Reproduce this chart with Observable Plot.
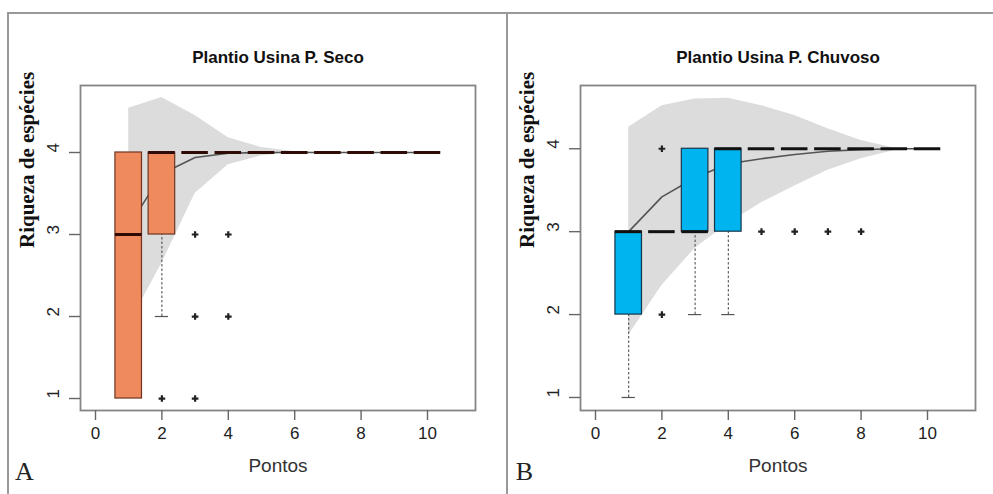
<!DOCTYPE html>
<html><head><meta charset="utf-8">
<script src="https://cdn.jsdelivr.net/npm/d3@7"></script>
<script src="https://cdn.jsdelivr.net/npm/@observablehq/plot@0.6"></script>
<style>
body{margin:0;background:#fff;}
#wrap{position:relative;width:993px;height:494px;overflow:hidden;background:#fff}
.fr{position:absolute;background:#999}
.panel{position:absolute;top:0}
.panel svg{display:block}
</style></head><body>
<div id="wrap">
 <div class="panel" id="p1" style="left:0"></div>
 <div class="panel" id="p2" style="left:500px"></div>
 <div class="fr" style="left:7px;top:12px;width:986px;height:2px"></div>
 <div class="fr" style="left:7px;top:12px;width:2px;height:482px"></div>
 <div class="fr" style="left:506px;top:12px;width:2px;height:482px"></div>
</div>
<script>
const pontos = [1, 2, 3, 4, 5, 6, 7, 8, 9, 10];
const xTicks = [0, 2, 4, 6, 8, 10];
const yTicks = [1, 2, 3, 4];

// Painel A: Plantio Usina P. Seco
const secoTitle = "Plantio Usina P. Seco";
const secoQ1   = [1, 3, 4, 4, 4, 4, 4, 4, 4, 4];
const secoMed  = [3, 4, 4, 4, 4, 4, 4, 4, 4, 4];
const secoQ3   = [4, 4, 4, 4, 4, 4, 4, 4, 4, 4];
const secoWLo  = [1, 2, 4, 4, 4, 4, 4, 4, 4, 4];
const secoWHi  = [4, 4, 4, 4, 4, 4, 4, 4, 4, 4];
const secoOutX = [2, 3, 3, 3, 4, 4];
const secoOutY = [1, 3, 2, 1, 3, 2];
const secoMean = [3.1, 3.74, 3.94, 3.99, 4, 4, 4, 4, 4, 4];
const secoLo   = [1.9, 2.65, 3.5, 3.85, 3.96, 4, 4, 4, 4, 4];
const secoHi   = [4.54, 4.67, 4.45, 4.18, 4.06, 4.01, 4, 4, 4, 4];

// Painel B: Plantio Usina P. Chuvoso
const chuvTitle = "Plantio Usina P. Chuvoso";
const chuvQ1   = [2, 3, 3, 3, 4, 4, 4, 4, 4, 4];
const chuvMed  = [3, 3, 3, 4, 4, 4, 4, 4, 4, 4];
const chuvQ3   = [3, 3, 4, 4, 4, 4, 4, 4, 4, 4];
const chuvWLo  = [1, 3, 2, 2, 4, 4, 4, 4, 4, 4];
const chuvWHi  = [3, 3, 4, 4, 4, 4, 4, 4, 4, 4];
const chuvOutX = [2, 2, 5, 6, 7, 8];
const chuvOutY = [4, 2, 3, 3, 3, 3];
const chuvMean = [3.0, 3.42, 3.65, 3.82, 3.88, 3.93, 3.97, 3.99, 4, 4];
const chuvLo   = [1.75, 2.35, 2.8, 3.1, 3.35, 3.55, 3.74, 3.88, 3.98, 4];
const chuvHi   = [4.26, 4.52, 4.6, 4.61, 4.52, 4.4, 4.24, 4.1, 4.01, 4];

const xLabel = "Pontos";
const yLabel = "Riqueza de espécies";

function panel(o) {
  const rows = pontos.map((x, i) => ({x, q1: o.q1[i], med: o.med[i], q3: o.q3[i], wlo: o.wlo[i], whi: o.whi[i], mean: o.mean[i], lo: o.lo[i], hi: o.hi[i]}));
  const outs = o.outX.map((x, i) => ({x, y: o.outY[i]}));
  const half = 0.4, cap = 0.2;
  const lower = rows.filter(d => d.wlo < d.q1);
  const upper = rows.filter(d => d.whi > d.q3);
  return Plot.plot({
    width: o.width, height: 494,
    marginLeft: 80, marginTop: 85, marginRight: o.width - 475, marginBottom: 84,
    x: {domain: [-0.452, 11.446]},
    y: {domain: o.yDomain},
    style: {fontFamily: "Liberation Sans, Arial, sans-serif", fontSize: "17px", color: "#333", background: "transparent"},
    marks: [
      Plot.areaY(rows, {x: "x", y1: "lo", y2: "hi", fill: "#dcdcdc"}),
      Plot.lineY(rows, {x: "x", y: "mean", stroke: "#555", strokeWidth: 1.6}),
      Plot.ruleX(lower, {x: "x", y1: "wlo", y2: "q1", stroke: "#444", strokeDasharray: "2.5,2"}),
      Plot.ruleX(upper, {x: "x", y1: "q3", y2: "whi", stroke: "#444", strokeDasharray: "2.5,2"}),
      Plot.ruleY(lower, {y: "wlo", x1: d => d.x - cap, x2: d => d.x + cap, stroke: "#555", strokeWidth: 1.2}),
      Plot.ruleY(upper, {y: "whi", x1: d => d.x - cap, x2: d => d.x + cap, stroke: "#555", strokeWidth: 1.2}),
      Plot.rect(rows, {x1: d => d.x - half, x2: d => d.x + half, y1: "q1", y2: "q3", fill: o.fill, stroke: o.stroke, strokeWidth: 1.2}),
      Plot.ruleY(rows, {y: "med", x1: d => d.x - half, x2: d => d.x + half, stroke: o.medColor, strokeWidth: 3}),
      Plot.dot(outs, {x: "x", y: "y", symbol: "cross", r: 2.8, fill: "#222"}),
      Plot.frame({stroke: "#858585", strokeWidth: 1.8}),
      Plot.axisX({ticks: xTicks, tickSize: 10, tickPadding: 6, label: null, stroke: "#666", strokeWidth: 1.4, fill: "#222", fontSize: 17}),
      Plot.axisY({ticks: yTicks, tickSize: 11, text: null, label: null, stroke: "#666", strokeWidth: 1.4}),
      Plot.text(yTicks, {y: d => d, text: d => String(d), frameAnchor: "left", dx: -27, rotate: -90, fill: "#222", fontSize: 17}),
      Plot.text([o.title], {frameAnchor: "top", dy: -35, fontWeight: "bold", fontSize: 17, fill: "#111"}),
      Plot.text([xLabel], {frameAnchor: "bottom", dy: 61, fontSize: 19, fill: "#333"}),
      Plot.text([yLabel], {frameAnchor: "left", dx: -53, rotate: -90, fontFamily: "Liberation Serif, Times New Roman, serif", fontWeight: "bold", fontSize: 21, fill: "#111"}),
      Plot.text([o.letter], {frameAnchor: "bottom-left", dx: -56, dy: 69, textAnchor: "middle", fontFamily: "Liberation Serif, Times New Roman, serif", fontSize: 26, fill: "#222"})
    ]
  });
}

document.getElementById("p1").append(panel({
  width: 500, title: secoTitle, letter: "A",
  q1: secoQ1, med: secoMed, q3: secoQ3, wlo: secoWLo, whi: secoWHi,
  outX: secoOutX, outY: secoOutY, mean: secoMean, lo: secoLo, hi: secoHi,
  fill: "#EE8A5E", stroke: "#6e3522", medColor: "#2e0b04", yDomain: [0.854, 4.817]
}));
document.getElementById("p2").append(panel({
  width: 493, title: chuvTitle, letter: "B",
  q1: chuvQ1, med: chuvMed, q3: chuvQ3, wlo: chuvWLo, whi: chuvWHi,
  outX: chuvOutX, outY: chuvOutY, mean: chuvMean, lo: chuvLo, hi: chuvHi,
  fill: "#00B4EF", stroke: "#173449", medColor: "#111", yDomain: [0.843, 4.763]
}));
</script>
</body></html>
